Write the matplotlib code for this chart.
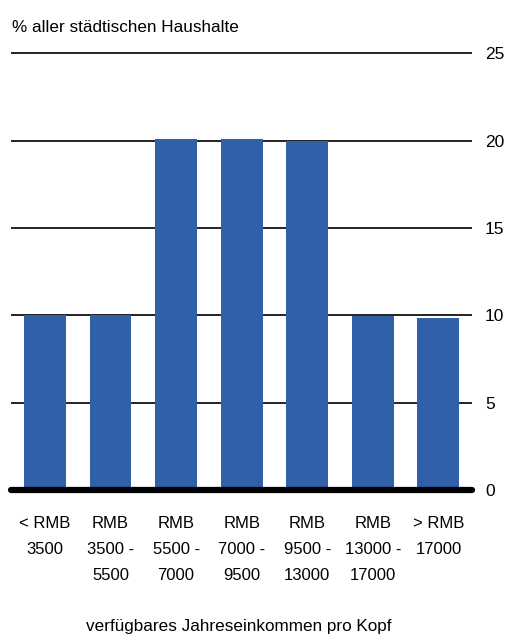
import numpy as np
import matplotlib
matplotlib.use('Agg')
import matplotlib.pyplot as plt

plt.rcParams['font.family'] = ['Liberation Sans', 'DejaVu Sans']

# Share of urban households by per-capita disposable income
categories = ['< RMB\n3500', 'RMB\n3500 -\n5500', 'RMB\n5500 -\n7000', 'RMB\n7000 -\n9500',
              'RMB\n9500 -\n13000', 'RMB\n13000 -\n17000', '> RMB\n17000']
shares = [10.0, 10.0, 20.1, 20.1, 20.0, 9.95, 9.85]
yticks = [0, 5, 10, 15, 20, 25]

fig = plt.figure(figsize=(5.05, 6.35), dpi=100)
ax = fig.add_axes([0.024, 0.2283, 0.909, 0.688])

x = np.arange(len(categories))
ax.bar(x, shares, width=0.64, color='#3160ab', zorder=2)

for y in yticks[1:]:
  ax.axhline(y, color='#222222', linewidth=1.4, zorder=1, clip_on=False)
ax.plot([-0.52, 6.52], [0, 0], color='black', linewidth=4.5, solid_capstyle='round',
        zorder=3, clip_on=False)

ax.set_xlim(-0.5, 6.5)
ax.set_ylim(0, 25)
ax.yaxis.tick_right()
ax.set_yticks(yticks)
ax.set_yticklabels([str(v) for v in yticks], fontsize=12.5)
ax.tick_params(axis='y', length=0, pad=10)
ax.set_xticks(x)
ax.set_xticklabels(categories, fontsize=12, linespacing=1.9, va='top')
ax.tick_params(axis='x', length=0, pad=19)
for s in ax.spines.values():
  s.set_visible(False)

fig.text(0.024, 0.957, '% aller städtischen Haushalte', fontsize=12.3, ha='left', va='center')
fig.text(0.472, 0.013, 'verfügbares Jahreseinkommen pro Kopf', fontsize=12.3, ha='center', va='center')

fig.savefig('out.png', dpi=100)
